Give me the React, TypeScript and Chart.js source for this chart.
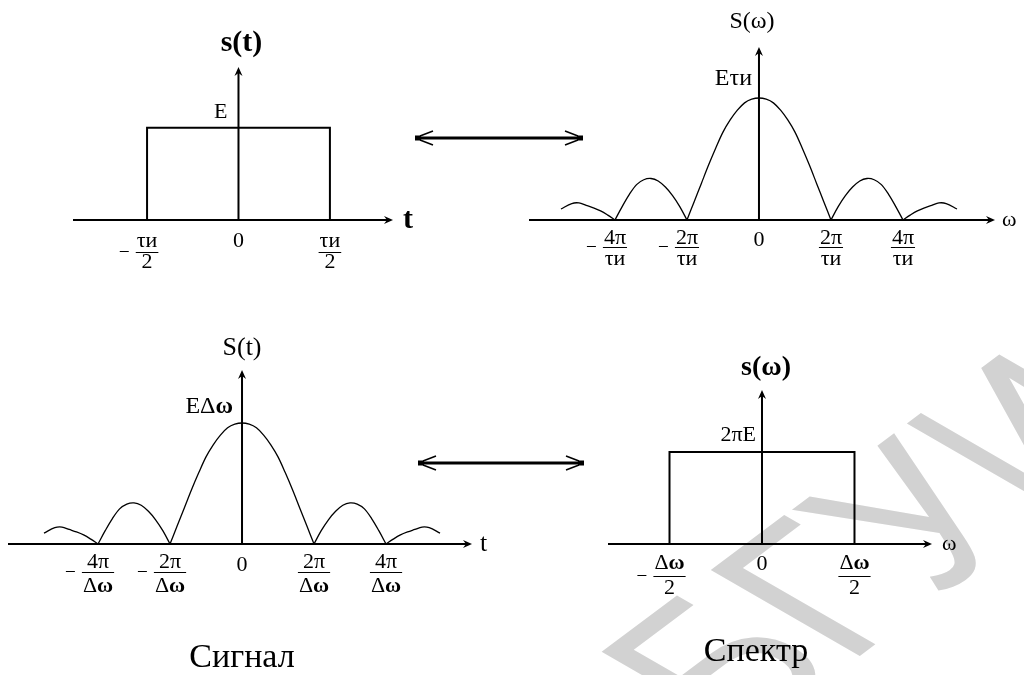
import React, { useEffect, useRef } from 'react';
import { Chart, registerables } from 'chart.js';

Chart.register(...registerables);

const W = 1024;
const H = 675;
const SERIF = '"Liberation Serif", "Times New Roman", serif';
const SANS = '"Liberation Sans", Arial, sans-serif';

// Rectangular pulse / rectangular band: x in half-widths, y relative to height
const rectX = [-1, -1, 1, 1];
const rectY = [0, 1, 1, 0];

// |sin x / x| shaped curve: x in units of 2π/τи (or 2π/Δω), y relative to the peak
const lobeX = [
  -2.75, -2.6, -2.5, -2.4, -2.3, -2.2, -2.1, -2.0,
  -1.9, -1.8, -1.7, -1.6, -1.5, -1.4, -1.3, -1.2, -1.1, -1.0,
  -0.9, -0.8, -0.7, -0.6, -0.5, -0.4, -0.3, -0.2, -0.1, 0,
  0.1, 0.2, 0.3, 0.4, 0.5, 0.6, 0.7, 0.8, 0.9, 1.0,
  1.1, 1.2, 1.3, 1.4, 1.5, 1.6, 1.7, 1.8, 1.9, 2.0,
  2.1, 2.2, 2.3, 2.4, 2.5, 2.6, 2.75,
];
const lobeY = [
  0.09, 0.135, 0.14, 0.12, 0.1, 0.075, 0.04, 0,
  0.11, 0.21, 0.29, 0.33, 0.34, 0.32, 0.27, 0.2, 0.11, 0,
  0.15, 0.3, 0.45, 0.59, 0.72, 0.82, 0.9, 0.96, 0.99, 1,
  0.99, 0.96, 0.9, 0.82, 0.72, 0.59, 0.45, 0.3, 0.15, 0,
  0.11, 0.2, 0.27, 0.32, 0.34, 0.33, 0.29, 0.21, 0.11, 0,
  0.04, 0.075, 0.1, 0.12, 0.14, 0.135, 0.09,
];

// Tick positions and their labels ("a/b" is drawn as a fraction)
const pulseTicks = [-1, 0, 1];
const pulseTickLabels = ['−τи/2', '0', 'τи/2'];
const spectrumTicks = [-2, -1, 0, 1, 2];
const spectrumTickLabels = ['−4π/τи', '−2π/τи', '0', '2π/τи', '4π/τи'];
const signalTicks = [-2, -1, 0, 1, 2];
const signalTickLabels = ['−4π/Δω', '−2π/Δω', '0', '2π/Δω', '4π/Δω'];
const bandTicks = [-1, 0, 1];
const bandTickLabels = ['−Δω/2', '0', 'Δω/2'];

const captions = ['Сигнал', 'Спектр'];
const watermark = 'БГУИР';

type TextSpec = { text: string; size: number; weight?: string; dx: number; dy: number };

type PanelSpec = {
  xs: number[];
  ys: number[];
  smooth: boolean;
  lineWidth: number;
  xMin: number;
  xMax: number;
  yMax: number;
  area: { left: number; top: number; right: number; bottom: number };
  ticks: number[];
  tickLabels: string[];
  tickSize: number;
  boldOmega: boolean;
  tickDy: { num: number; bar: number; den: number; zero: number };
  title: TextSpec;
  peak: TextSpec;
  axisName: TextSpec;
  decor?: 'watermark' | 'links';
};

const panels: PanelSpec[] = [
  {
    xs: rectX, ys: rectY, smooth: false, lineWidth: 2,
    xMin: -1.81, xMax: 1.69, yMax: 1.66,
    area: { left: 73, top: 67, right: 393, bottom: 220 },
    ticks: pulseTicks, tickLabels: pulseTickLabels, tickSize: 22, boldOmega: false,
    tickDy: { num: 21, bar: 32, den: 42, zero: 21 },
    title: { text: 's(t)', size: 30, weight: 'bold', dx: 3, dy: -24 },
    peak: { text: 'E', size: 22, dx: -11, dy: -16 },
    axisName: { text: 't', size: 30, weight: 'bold', dx: 10, dy: 0 },
    decor: 'watermark',
  },
  {
    xs: lobeX, ys: lobeY, smooth: true, lineWidth: 1.3,
    xMin: -3.194, xMax: 3.278, yMax: 1.418,
    area: { left: 529, top: 47, right: 995, bottom: 220 },
    ticks: spectrumTicks, tickLabels: spectrumTickLabels, tickSize: 22, boldOmega: false,
    tickDy: { num: 18, bar: 27, den: 39, zero: 20 },
    title: { text: 'S(ω)', size: 24, dx: -7, dy: -25 },
    peak: { text: 'Eτи', size: 24, dx: -7, dy: -19 },
    axisName: { text: 'ω', size: 22, dx: 7, dy: 0 },
  },
  {
    xs: lobeX, ys: lobeY, smooth: true, lineWidth: 1.3,
    xMin: -3.25, xMax: 3.194, yMax: 1.438,
    area: { left: 8, top: 370, right: 472, bottom: 544 },
    ticks: signalTicks, tickLabels: signalTickLabels, tickSize: 22, boldOmega: true,
    tickDy: { num: 18, bar: 28, den: 42, zero: 21 },
    title: { text: 'S(t)', size: 26, dx: 0, dy: -22 },
    peak: { text: 'EΔω', size: 24, dx: -9, dy: -16 },
    axisName: { text: 't', size: 26, dx: 8, dy: 0 },
  },
  {
    xs: rectX, ys: rectY, smooth: false, lineWidth: 2,
    xMin: -1.665, xMax: 1.838, yMax: 1.674,
    area: { left: 608, top: 390, right: 932, bottom: 544 },
    ticks: bandTicks, tickLabels: bandTickLabels, tickSize: 22, boldOmega: true,
    tickDy: { num: 19, bar: 32, den: 44, zero: 20 },
    title: { text: 's(ω)', size: 28, weight: 'bold', dx: 4, dy: -22 },
    peak: { text: '2πE', size: 22, dx: -6, dy: -17 },
    axisName: { text: 'ω', size: 22, dx: 10, dy: 0 },
    decor: 'links',
  },
];

function font(size: number, weight = 'normal') {
  return `${weight} ${size}px ${SERIF}`;
}

// Draws text where ω may be set in bold; returns the width
function drawRich(
  ctx: CanvasRenderingContext2D, text: string, x: number, y: number,
  size: number, weight: string, align: 'left' | 'center' | 'right', boldOmega: boolean, measureOnly = false,
) {
  const runs: { t: string; w: string }[] = [];
  for (const ch of text) {
    const w = boldOmega && ch === 'ω' ? 'bold' : weight;
    const last = runs[runs.length - 1];
    if (last && last.w === w) last.t += ch;
    else runs.push({ t: ch, w });
  }
  let total = 0;
  const widths = runs.map((r) => {
    ctx.font = font(size, r.w);
    const m = ctx.measureText(r.t).width;
    total += m;
    return m;
  });
  if (measureOnly) return total;
  let cx = align === 'left' ? x : align === 'center' ? x - total / 2 : x - total;
  ctx.textAlign = 'left';
  ctx.textBaseline = 'middle';
  runs.forEach((r, i) => {
    ctx.font = font(size, r.w);
    ctx.fillText(r.t, cx, y);
    cx += widths[i];
  });
  return total;
}

function arrowHead(ctx: CanvasRenderingContext2D, x: number, y: number, dir: 'right' | 'up' | 'left') {
  ctx.save();
  ctx.translate(x, y);
  ctx.rotate(dir === 'right' ? 0 : dir === 'up' ? -Math.PI / 2 : Math.PI);
  ctx.beginPath();
  ctx.moveTo(0, 0);
  ctx.lineTo(-9, -4);
  ctx.lineTo(-6, 0);
  ctx.lineTo(-9, 4);
  ctx.closePath();
  ctx.fill();
  ctx.restore();
}

function linkArrowHead(ctx: CanvasRenderingContext2D, x: number, y: number, sign: number) {
  ctx.fillRect(sign > 0 ? x - 6 : x, y - 2.5, 6, 5);
  ctx.lineWidth = 1.5;
  ctx.beginPath();
  ctx.moveTo(x - sign * 5, y - 2);
  ctx.lineTo(x - sign * 18, y - 7);
  ctx.moveTo(x - sign * 5, y + 2);
  ctx.lineTo(x - sign * 18, y + 7);
  ctx.stroke();
}

function drawDecor(ctx: CanvasRenderingContext2D, kind: 'watermark' | 'links') {
  ctx.save();
  if (kind === 'watermark') {
    // slanted grey lettering in the lower right corner
    ctx.transform(0.666, -0.498, 0.866, 0.5, 737, 748);
    ctx.font = `250px ${SANS}`;
    ctx.fillStyle = '#d2d2d2';
    ctx.textBaseline = 'alphabetic';
    ctx.fillText(watermark, 0, 0);
  } else {
    ctx.fillStyle = '#000';
    ctx.strokeStyle = '#000';
    const links = [
      { y: 138, x1: 415, x2: 583 },
      { y: 463, x1: 418, x2: 584 },
    ];
    links.forEach((l) => {
      ctx.lineWidth = 3;
      ctx.beginPath();
      ctx.moveTo(l.x1 + 4, l.y);
      ctx.lineTo(l.x2 - 4, l.y);
      ctx.stroke();
      linkArrowHead(ctx, l.x2, l.y, 1);
      linkArrowHead(ctx, l.x1, l.y, -1);
    });
    ctx.textAlign = 'center';
    ctx.textBaseline = 'alphabetic';
    ctx.font = font(34);
    ctx.fillText(captions[0], 242, 667);
    ctx.fillText(captions[1], 756, 661);
  }
  ctx.restore();
}

function axesPlugin(p: PanelSpec) {
  return {
    id: 'panelAxes',
    beforeDraw(chart: any) {
      if (p.decor === 'watermark') drawDecor(chart.ctx, 'watermark');
    },
    afterDatasetsDraw(chart: any) {
      const ctx: CanvasRenderingContext2D = chart.ctx;
      const xs = chart.scales.x;
      const ys = chart.scales.y;
      const x0 = xs.getPixelForValue(0);
      const y0 = ys.getPixelForValue(0);
      const left = xs.getPixelForValue(p.xMin);
      const right = xs.getPixelForValue(p.xMax);
      const top = ys.getPixelForValue(p.yMax);
      const peakY = ys.getPixelForValue(1);

      ctx.save();
      ctx.strokeStyle = '#000';
      ctx.fillStyle = '#000';
      ctx.lineWidth = 2;
      ctx.beginPath();
      ctx.moveTo(left, y0);
      ctx.lineTo(right - 5, y0);
      ctx.moveTo(x0, y0);
      ctx.lineTo(x0, top + 5);
      ctx.stroke();
      arrowHead(ctx, right, y0, 'right');
      arrowHead(ctx, x0, top, 'up');

      // title, peak value and axis name
      const t = p.title;
      drawRich(ctx, t.text, x0 + t.dx, top + t.dy, t.size, t.weight || 'normal', 'center', false);
      const pk = p.peak;
      drawRich(ctx, pk.text, x0 + pk.dx, peakY + pk.dy, pk.size, pk.weight || 'normal', 'right', p.boldOmega);
      const an = p.axisName;
      drawRich(ctx, an.text, right + an.dx, y0 + an.dy, an.size, an.weight || 'normal', 'left', false);

      // tick labels
      p.ticks.forEach((v, i) => {
        const label = p.tickLabels[i];
        const tx = xs.getPixelForValue(v);
        if (!label.includes('/')) {
          drawRich(ctx, label, tx, y0 + p.tickDy.zero, p.tickSize, 'normal', 'center', p.boldOmega);
          return;
        }
        const neg = label.startsWith('−');
        const [num, den] = (neg ? label.slice(1) : label).split('/');
        const wn = drawRich(ctx, num, 0, 0, p.tickSize, 'normal', 'left', p.boldOmega, true);
        const wd = drawRich(ctx, den, 0, 0, p.tickSize, 'normal', 'left', p.boldOmega, true);
        const bw = Math.max(wn, wd) + 2;
        drawRich(ctx, num, tx, y0 + p.tickDy.num, p.tickSize, 'normal', 'center', p.boldOmega);
        drawRich(ctx, den, tx, y0 + p.tickDy.den, p.tickSize, 'normal', 'center', p.boldOmega);
        const by = Math.round(y0 + p.tickDy.bar) + 0.5;
        ctx.lineWidth = 1;
        ctx.beginPath();
        ctx.moveTo(tx - bw / 2, by);
        ctx.lineTo(tx + bw / 2, by);
        if (neg) {
          ctx.moveTo(tx - bw / 2 - 16, by - 1);
          ctx.lineTo(tx - bw / 2 - 7, by - 1);
        }
        ctx.stroke();
      });
      ctx.restore();
    },
    afterDraw(chart: any) {
      if (p.decor === 'links') drawDecor(chart.ctx, 'links');
    },
  };
}

// Split a curve into pieces at its zeros so each lobe meets the axis in a cusp
function lobes(xs: number[], ys: number[]) {
  const out: { x: number; y: number }[][] = [];
  let cur: { x: number; y: number }[] = [];
  xs.forEach((x, i) => {
    cur.push({ x, y: ys[i] });
    if (ys[i] === 0 && cur.length > 1) {
      out.push(cur);
      cur = [{ x, y: 0 }];
    }
  });
  if (cur.length > 1) out.push(cur);
  return out;
}

function PanelChart({ spec }: { spec: PanelSpec }) {
  const ref = useRef<HTMLCanvasElement>(null);
  useEffect(() => {
    const canvas = ref.current;
    if (!canvas) return;
    const pieces = spec.smooth ? lobes(spec.xs, spec.ys) : [spec.xs.map((x, i) => ({ x, y: spec.ys[i] }))];
    const chart = new Chart(canvas, {
      type: 'scatter',
      data: {
        datasets: pieces.map((d) => ({
          data: d,
          showLine: true,
          borderColor: '#000',
          borderWidth: spec.lineWidth,
          pointRadius: 0,
          tension: spec.smooth ? 0.35 : 0,
          clip: false as any,
          fill: false,
        })),
      },
      options: {
        responsive: false,
        animation: false,
        devicePixelRatio: 1,
        events: [],
        layout: {
          padding: {
            left: spec.area.left,
            top: spec.area.top,
            right: W - spec.area.right,
            bottom: H - spec.area.bottom,
          },
        },
        scales: {
          x: { type: 'linear', display: false, min: spec.xMin, max: spec.xMax },
          y: { type: 'linear', display: false, min: 0, max: spec.yMax },
        },
        plugins: { legend: { display: false }, tooltip: { enabled: false } },
      },
      plugins: [axesPlugin(spec)],
    });
    return () => chart.destroy();
  }, [spec]);
  return (
    <canvas
      ref={ref}
      width={W}
      height={H}
      style={{ position: 'absolute', left: 0, top: 0, width: W, height: H }}
    />
  );
}

export default function App() {
  return (
    <div style={{ position: 'absolute', left: 0, top: 0, width: W, height: H, background: '#fff', overflow: 'hidden' }}>
      {panels.map((p, i) => (
        <PanelChart key={i} spec={p} />
      ))}
    </div>
  );
}
